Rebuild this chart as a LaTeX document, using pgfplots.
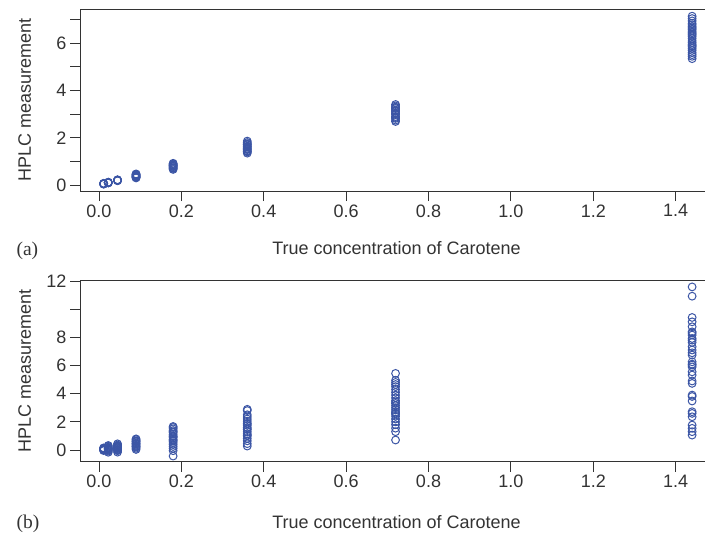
\documentclass[border=0pt]{standalone}
\usepackage{pgfplots}
\pgfplotsset{compat=1.18}
\usepackage{fontspec}
\setmainfont{Liberation Sans}
\newfontfamily\serifA{Liberation Serif}
\definecolor{ptblue}{HTML}{3B55A5}
\definecolor{axgray}{HTML}{333333}
\pgfplotsset{
 myaxis/.style={
  scale only axis, width=635.6bp,
  xmin=-0.0461, xmax=1.497,
  xtick={0,0.2,0.4,0.6,0.8,1.0,1.2,1.4},
  xticklabels={0.0,0.2,0.4,0.6,0.8,1.0,1.2,1.4},
  tick align=outside, xtick pos=bottom, ytick pos=left,
  major tick length=10bp,
  axis line style={axgray, line width=0.9bp},
  every tick/.style={axgray, line width=0.9bp},
  tick label style={font=\fontsize{18bp}{21bp}\selectfont, text=axgray},
  label style={font=\fontsize{18bp}{21bp}\selectfont, text=axgray},
  /pgf/number format/assume math mode=true,
  xlabel={True concentration of Carotene},
  ylabel={HPLC measurement},
  ylabel style={at={(axis description cs:-0.0771,0.5)}, anchor=base},
 },
 pts/.style={only marks, mark=o, mark size=3.9pt, draw=ptblue, color=ptblue,
   mark options={draw=ptblue, fill=none, line width=1bp}},
}
\begin{document}
\begin{tikzpicture}
\path[use as bounding box, clip] (0,0) rectangle (705bp,-533bp);
% Panel (a)
\begin{axis}[myaxis, at={(80bp,-191bp)}, anchor=south west,
  height=182bp, ymin=-0.254, ymax=7.454,
  ytick={0,1,2,3,4,5,6,7}, yticklabels={0,,2,,4,,6,},
  xlabel style={at={(axis description cs:0.498,-0.3516)}, anchor=base}]
\addplot[pts] coordinates {
(0.01125,0.04) (0.01125,0.05) (0.01125,0.06) (0.01125,0.05) (0.01125,0.07) (0.01125,0.04) (0.01125,0.06)
(0.0225,0.09) (0.0225,0.10) (0.0225,0.11) (0.0225,0.10) (0.0225,0.12) (0.0225,0.09) (0.0225,0.11)
(0.045,0.18) (0.045,0.20) (0.045,0.21) (0.045,0.19) (0.045,0.22) (0.045,0.20) (0.045,0.21)
(0.09,0.30) (0.09,0.33) (0.09,0.36) (0.09,0.38) (0.09,0.40) (0.09,0.42) (0.09,0.45) (0.09,0.47) (0.09,0.35) (0.09,0.43) (0.09,0.32)
(0.18,0.66) (0.18,0.70) (0.18,0.74) (0.18,0.78) (0.18,0.80) (0.18,0.83) (0.18,0.86) (0.18,0.89) (0.18,0.92) (0.18,0.72) (0.18,0.84)
(0.36,1.35) (0.36,1.40) (0.36,1.45) (0.36,1.50) (0.36,1.55) (0.36,1.60) (0.36,1.65) (0.36,1.70) (0.36,1.75) (0.36,1.80) (0.36,1.86) (0.36,1.42) (0.36,1.52) (0.36,1.62) (0.36,1.72)
(0.72,2.69) (0.72,2.75) (0.72,2.82) (0.72,2.90) (0.72,2.98) (0.72,3.05) (0.72,3.12) (0.72,3.18) (0.72,3.24) (0.72,3.30) (0.72,3.35) (0.72,3.41) (0.72,2.86) (0.72,3.02) (0.72,3.15) (0.72,3.28)
(1.44,5.35) (1.44,5.45) (1.44,5.52) (1.44,5.60) (1.44,5.70) (1.44,5.78) (1.44,5.85) (1.44,5.95) (1.44,6.02) (1.44,6.10) (1.44,6.20) (1.44,6.28) (1.44,6.35) (1.44,6.45) (1.44,6.52) (1.44,6.60) (1.44,6.70) (1.44,6.78) (1.44,6.85) (1.44,6.95) (1.44,7.05) (1.44,7.15) (1.44,5.90) (1.44,6.40) (1.44,6.65)
};
\end{axis}
% Panel (b)
\begin{axis}[myaxis, at={(80bp,-461.7bp)}, anchor=south west,
  height=181.7bp, ymin=-0.83, ymax=12.07,
  ytick={0,2,4,6,8,10,12}, yticklabels={0,2,4,6,8,,12},
  xlabel style={at={(axis description cs:0.498,-0.365)}, anchor=base}]
\addplot[pts] coordinates {
(0.01125,-0.04) (0.01125,0.00) (0.01125,0.03) (0.01125,0.05) (0.01125,0.08) (0.01125,0.10) (0.01125,0.13) (0.01125,0.15) (0.01125,0.06) (0.01125,0.02)
(0.0225,-0.16) (0.0225,-0.08) (0.0225,0.00) (0.0225,0.05) (0.0225,0.10) (0.0225,0.15) (0.0225,0.20) (0.0225,0.26) (0.0225,0.32) (0.0225,0.08) (0.0225,-0.02) (0.0225,0.12)
(0.045,-0.15) (0.045,-0.05) (0.045,0.05) (0.045,0.10) (0.045,0.15) (0.045,0.20) (0.045,0.25) (0.045,0.30) (0.045,0.36) (0.045,0.44) (0.045,0.00) (0.045,0.18) (0.045,0.28)
(0.09,0.04) (0.09,0.12) (0.09,0.20) (0.09,0.28) (0.09,0.35) (0.09,0.42) (0.09,0.50) (0.09,0.58) (0.09,0.66) (0.09,0.74) (0.09,0.79) (0.09,0.25) (0.09,0.45) (0.09,0.62)
(0.18,-0.43) (0.18,-0.05) (0.18,0.12) (0.18,0.25) (0.18,0.38) (0.18,0.50) (0.18,0.62) (0.18,0.75) (0.18,0.88) (0.18,1.00) (0.18,1.12) (0.18,1.25) (0.18,1.38) (0.18,1.50) (0.18,1.60) (0.18,1.67) (0.18,0.70) (0.18,0.95) (0.18,1.30)
(0.36,0.28) (0.36,0.45) (0.36,0.65) (0.36,0.82) (0.36,1.00) (0.36,1.15) (0.36,1.30) (0.36,1.45) (0.36,1.60) (0.36,1.75) (0.36,1.90) (0.36,2.05) (0.36,2.20) (0.36,2.35) (0.36,2.50) (0.36,2.80) (0.36,2.89) (0.36,1.05) (0.36,1.50) (0.36,1.85)
(0.72,0.71) (0.72,1.30) (0.72,1.55) (0.72,1.80) (0.72,2.00) (0.72,2.20) (0.72,2.40) (0.72,2.55) (0.72,2.70) (0.72,2.85) (0.72,3.00) (0.72,3.15) (0.72,3.30) (0.72,3.50) (0.72,3.70) (0.72,3.90) (0.72,4.10) (0.72,4.30) (0.72,4.50) (0.72,4.65) (0.72,4.80) (0.72,4.95) (0.72,5.44) (0.72,2.62) (0.72,3.40)
(1.44,11.58) (1.44,10.92) (1.44,9.41) (1.44,9.10) (1.44,8.75) (1.44,8.39) (1.44,8.16) (1.44,7.92) (1.44,7.64) (1.44,7.33) (1.44,6.74) (1.44,6.26) (1.44,6.03) (1.44,5.55) (1.44,5.32) (1.44,4.73) (1.44,3.90) (1.44,3.48) (1.44,2.72) (1.44,2.36) (1.44,1.77) (1.44,1.54) (1.44,1.06) (1.44,8.30) (1.44,7.80) (1.44,7.10) (1.44,6.90) (1.44,6.10) (1.44,5.90) (1.44,4.90) (1.44,3.80) (1.44,2.60) (1.44,1.30)
};
\end{axis}
\node[anchor=base west, font=\serifA\fontsize{19.5bp}{22bp}\selectfont, text=axgray] at (13bp,-255bp) {(a)};
\node[anchor=base west, font=\serifA\fontsize{19.5bp}{22bp}\selectfont, text=axgray] at (13bp,-528.3bp) {(b)};
\end{tikzpicture}
\end{document}
